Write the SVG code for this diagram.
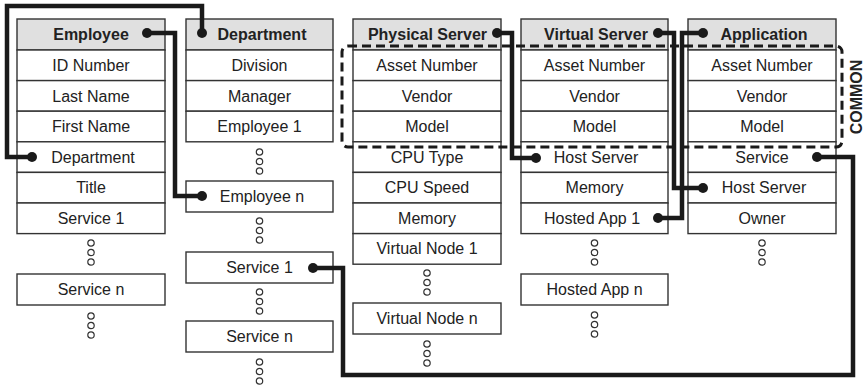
<svg xmlns="http://www.w3.org/2000/svg" width="865" height="388" viewBox="0 0 865 388">
<defs>
<style>
.c{fill:#fff;stroke:#333;stroke-width:1.4}
.h{fill:#e0e0e0;stroke:#333;stroke-width:1.4}
.t{font-family:"Liberation Sans",Arial,sans-serif;font-size:16px;fill:#222;text-anchor:middle}
.b{font-weight:bold}
.e{fill:#fff;stroke:#333;stroke-width:1.2}
.w{fill:none;stroke:#1a1a1a;stroke-width:4.5;stroke-linejoin:miter}
.d{fill:#1a1a1a}
.m{fill:none;stroke:#1a1a1a;stroke-width:3;stroke-dasharray:9 5}
</style>
<g id="dots"><circle class="e" cx="0" cy="0" r="3.2"/><circle class="e" cx="0" cy="9.5" r="3.2"/><circle class="e" cx="0" cy="19" r="3.2"/></g>
</defs>
<rect width="865" height="388" fill="#fff"/>

<g id="employee">
<rect class="h" x="17" y="19" width="148" height="31"/>
<rect class="c" x="17" y="50" width="148" height="30.6"/>
<rect class="c" x="17" y="80.6" width="148" height="30.6"/>
<rect class="c" x="17" y="111.2" width="148" height="30.6"/>
<rect class="c" x="17" y="141.8" width="148" height="30.6"/>
<rect class="c" x="17" y="172.4" width="148" height="30.6"/>
<rect class="c" x="17" y="203" width="148" height="30.6"/>
<text class="t b" x="91" y="40">Employee</text>
<text class="t" x="91" y="71">ID Number</text>
<text class="t" x="91" y="101.5">Last Name</text>
<text class="t" x="91" y="132">First Name</text>
<text class="t" x="93" y="162.5">Department</text>
<text class="t" x="91" y="193">Title</text>
<text class="t" x="91" y="223.5">Service 1</text>
<use href="#dots" x="91" y="243"/>
<rect class="c" x="17" y="274" width="148" height="31"/>
<text class="t" x="91" y="295">Service n</text>
<use href="#dots" x="91" y="316"/>
</g>

<g id="department">
<rect class="h" x="186" y="19" width="147" height="31"/>
<rect class="c" x="186" y="50" width="147" height="30.6"/>
<rect class="c" x="186" y="80.6" width="147" height="30.6"/>
<rect class="c" x="186" y="111.2" width="147" height="30.6"/>
<text class="t b" x="262" y="40">Department</text>
<text class="t" x="259.5" y="71">Division</text>
<text class="t" x="259.5" y="101.5">Manager</text>
<text class="t" x="259.5" y="132">Employee 1</text>
<use href="#dots" x="259.5" y="152"/>
<rect class="c" x="186" y="181" width="147" height="31"/>
<text class="t" x="262" y="202">Employee n</text>
<use href="#dots" x="259.5" y="221"/>
<rect class="c" x="186" y="252" width="147" height="31"/>
<text class="t" x="259.5" y="273">Service 1</text>
<use href="#dots" x="259.5" y="292"/>
<rect class="c" x="186" y="321" width="147" height="31"/>
<text class="t" x="259.5" y="342">Service n</text>
<use href="#dots" x="259.5" y="362"/>
</g>

<g id="physical-server">
<rect class="h" x="353" y="19" width="148" height="31"/>
<rect class="c" x="353" y="50" width="148" height="30.6"/>
<rect class="c" x="353" y="80.6" width="148" height="30.6"/>
<rect class="c" x="353" y="111.2" width="148" height="30.6"/>
<rect class="c" x="353" y="141.8" width="148" height="30.6"/>
<rect class="c" x="353" y="172.4" width="148" height="30.6"/>
<rect class="c" x="353" y="203" width="148" height="30.6"/>
<rect class="c" x="353" y="233.6" width="148" height="30.6"/>
<text class="t b" x="427.5" y="40">Physical Server</text>
<text class="t" x="427" y="71">Asset Number</text>
<text class="t" x="427" y="101.5">Vendor</text>
<text class="t" x="427" y="132">Model</text>
<text class="t" x="427" y="162.5">CPU Type</text>
<text class="t" x="427" y="193">CPU Speed</text>
<text class="t" x="427" y="223.5">Memory</text>
<text class="t" x="427" y="254">Virtual Node 1</text>
<use href="#dots" x="427" y="273"/>
<rect class="c" x="353" y="303" width="148" height="31"/>
<text class="t" x="427" y="324">Virtual Node n</text>
<use href="#dots" x="427" y="344"/>
</g>

<g id="virtual-server">
<rect class="h" x="521" y="19" width="147" height="31"/>
<rect class="c" x="521" y="50" width="147" height="30.6"/>
<rect class="c" x="521" y="80.6" width="147" height="30.6"/>
<rect class="c" x="521" y="111.2" width="147" height="30.6"/>
<rect class="c" x="521" y="141.8" width="147" height="30.6"/>
<rect class="c" x="521" y="172.4" width="147" height="30.6"/>
<rect class="c" x="521" y="203" width="147" height="30.6"/>
<text class="t b" x="596" y="40">Virtual Server</text>
<text class="t" x="594.5" y="71">Asset Number</text>
<text class="t" x="594.5" y="101.5">Vendor</text>
<text class="t" x="594.5" y="132">Model</text>
<text class="t" x="596" y="162.5">Host Server</text>
<text class="t" x="594.5" y="193">Memory</text>
<text class="t" x="592" y="223.5">Hosted App 1</text>
<use href="#dots" x="594.5" y="243"/>
<rect class="c" x="521" y="274" width="147" height="31"/>
<text class="t" x="594.5" y="295">Hosted App n</text>
<use href="#dots" x="594.5" y="315"/>
</g>

<g id="application">
<rect class="h" x="688" y="19" width="148" height="31"/>
<rect class="c" x="688" y="50" width="148" height="30.6"/>
<rect class="c" x="688" y="80.6" width="148" height="30.6"/>
<rect class="c" x="688" y="111.2" width="148" height="30.6"/>
<rect class="c" x="688" y="141.8" width="148" height="30.6"/>
<rect class="c" x="688" y="172.4" width="148" height="30.6"/>
<rect class="c" x="688" y="203" width="148" height="30.6"/>
<text class="t b" x="764" y="40">Application</text>
<text class="t" x="762" y="71">Asset Number</text>
<text class="t" x="762" y="101.5">Vendor</text>
<text class="t" x="762" y="132">Model</text>
<text class="t" x="762" y="162.5">Service</text>
<text class="t" x="764" y="193">Host Server</text>
<text class="t" x="762" y="223.5">Owner</text>
<use href="#dots" x="762" y="243"/>
</g>

<g id="common">
<rect class="m" x="342" y="46" width="500" height="101" rx="6"/>
<text class="t b" x="0" y="0" font-size="14" transform="translate(862,97) rotate(-90)">COMMON</text>
</g>

<g id="connectors">
<path class="w" d="M147,33 H175 V196 H202"/>
<circle class="d" cx="147" cy="33" r="5"/><circle class="d" cx="202" cy="196" r="5"/>
<path class="w" d="M202,33 V6 H7 V157 H32"/>
<circle class="d" cx="202" cy="33" r="5"/><circle class="d" cx="32" cy="157" r="5"/>
<path class="w" d="M497,33 H512 V158 H536"/>
<circle class="d" cx="497" cy="33" r="5"/><circle class="d" cx="536" cy="158" r="5"/>
<path class="w" d="M658,33 H674 V188 H703"/>
<circle class="d" cx="658" cy="33" r="5"/><circle class="d" cx="703" cy="188" r="5"/>
<path class="w" d="M703,33 H682 V218 H658"/>
<circle class="d" cx="703" cy="33" r="5"/><circle class="d" cx="658" cy="218" r="5"/>
<path class="w" d="M817,157 H853 V375 H343 V268 H313"/>
<circle class="d" cx="817" cy="157" r="5"/><circle class="d" cx="313" cy="268" r="5"/>
</g>
</svg>
